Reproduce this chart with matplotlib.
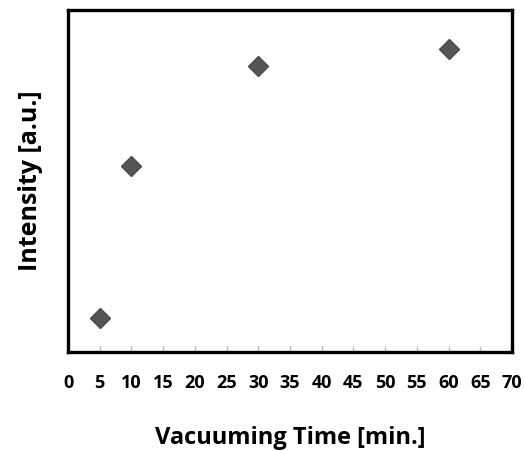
import matplotlib
matplotlib.use('Agg')
from matplotlib import pyplot as plt

# data
time_min = [5, 10, 30, 60]
intensity = [0.10, 0.545, 0.835, 0.886]
x_ticks = list(range(0, 75, 5))

plt.rcParams['font.family'] = ['Open Sans', 'DejaVu Sans']

fig = plt.figure(figsize=(5.24, 4.51), dpi=100)
ax = fig.add_axes([68/524, 1 - 352/451, 444/524, 342/451])

ax.plot(time_min, intensity, linestyle='none', marker='D', markersize=10.5,
        color='#555555', markeredgecolor='#4a4a4a')

ax.set_xlim(0, 70)
ax.set_ylim(0, 1)
ax.set_xticks(x_ticks)
ax.set_yticks([])
ax.tick_params(axis='x', direction='in', length=4, width=1, color='#bbbbbb',
               labelsize=13, pad=16)
for lab in ax.get_xticklabels():
    lab.set_fontweight('bold')

for sp in ax.spines.values():
    sp.set_linewidth(2.4)
    sp.set_color('black')

ax.set_xlabel('Vacuuming Time [min.]', fontsize=17, fontweight='bold', labelpad=24)
ax.set_ylabel('Intensity [a.u.]', fontsize=18, fontweight='bold', labelpad=18)

plt.savefig('out.png', dpi=100)
